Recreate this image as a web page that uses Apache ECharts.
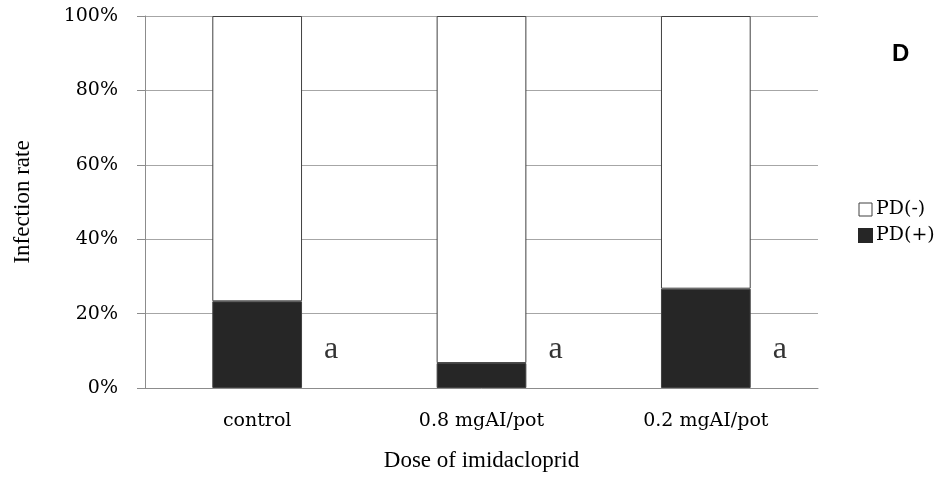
<!DOCTYPE html>
<html><head><meta charset="utf-8">
<script src="https://cdn.jsdelivr.net/npm/echarts@6/dist/echarts.min.js"></script>
<style>html,body{margin:0;padding:0;background:#fff}#c{width:948px;height:477px}</style>
</head><body><div id="c"></div>
<script>
const categories = ['control', '0.8 mgAI/pot', '0.2 mgAI/pot'];
const pdPos = [23.3, 6.7, 26.7];
const pdNeg = [76.7, 93.3, 73.3];
const letters = ['a', 'a', 'a'];
const letterLevel = [9.7, 9.7, 9.7];
const serif = '"Liberation Serif", "DejaVu Serif", serif';
const wideSerif = '"DejaVu Serif", serif';

const chart = echarts.init(document.getElementById('c'));
chart.setOption({
  animation: false,
  backgroundColor: '#fff',
  title: {text: 'D', left: 887, top: 37, textStyle: {fontFamily: 'Liberation Sans, Arial', fontWeight: 'bold', fontSize: 24, color: '#000'}},
  grid: {left: 145, right: 130, top: 16, bottom: 89},
  legend: {
    orient: 'vertical', left: 853, top: 195, itemWidth: 13, itemHeight: 13, itemGap: 7,
    icon: 'rect',
    textStyle: {fontFamily: wideSerif, fontSize: 19, color: '#000', padding: [0, 0, 0, -1]},
    data: [
      {name: 'PD(-)', itemStyle: {color: '#fff', borderColor: '#404040', borderWidth: 1}},
      {name: 'PD(+)', itemStyle: {color: '#262626', borderColor: '#262626'}}
    ]
  },
  xAxis: {
    type: 'category', data: categories,
    name: 'Dose of imidacloprid', nameLocation: 'middle', nameGap: 61,
    nameTextStyle: {fontFamily: serif, fontSize: 23, color: '#000'},
    axisLine: {lineStyle: {color: '#8c8c8c'}},
    axisTick: {lineStyle: {color: '#8c8c8c'}, length: 7},
    axisLabel: {fontFamily: wideSerif, fontSize: 19, color: '#000', margin: 24}
  },
  yAxis: {
    type: 'value', min: 0, max: 100, interval: 20,
    name: 'Infection rate', nameLocation: 'middle', nameGap: 111,
    nameTextStyle: {fontFamily: serif, fontSize: 23, color: '#000'},
    axisLine: {show: true, lineStyle: {color: '#8c8c8c'}},
    axisTick: {show: true, inside: false, length: 8, lineStyle: {color: '#8c8c8c'}},
    axisLabel: {fontFamily: wideSerif, fontSize: 19, color: '#000', margin: 27, formatter: '{value}%'},
    splitLine: {lineStyle: {color: '#a6a6a6'}}
  },
  series: [
    {name: 'PD(+)', type: 'bar', stack: 's', data: pdPos, barWidth: '40%',
     itemStyle: {color: '#262626', borderColor: '#404040', borderWidth: 1}},
    {name: 'PD(-)', type: 'bar', stack: 's', data: pdNeg, barWidth: '40%',
     itemStyle: {color: '#fff', borderColor: '#404040', borderWidth: 1}},
    {name: 'letters', type: 'scatter', symbolSize: 0, silent: true,
     data: letterLevel.map((v, i) => ({value: [i, v], label: {formatter: letters[i]}})),
     label: {show: true, position: 'inside', offset: [74, -2], fontFamily: serif, fontSize: 32, color: '#000'}}
  ]
});
</script></body></html>
